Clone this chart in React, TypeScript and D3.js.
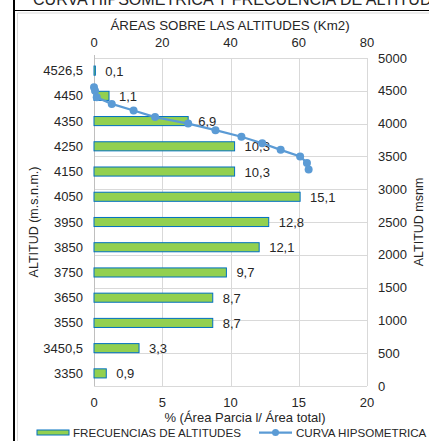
import * as d3 from "d3";

const categories = ["4526,5", "4450", "4350", "4250", "4150", "4050", "3950", "3850", "3750", "3650", "3550", "3450,5", "3350"];
const percents = [0.1, 1.1, 6.9, 10.3, 10.3, 15.1, 12.8, 12.1, 9.7, 8.7, 8.7, 3.3, 0.9];

// hypsometric curve: cumulative area above (km2) vs altitude (msnm)
const curveArea = [0, 0.3, 0.8, 5.2, 11.6, 17.9, 27.6, 35.6, 43.2, 49.3, 54.7, 60.4, 62.4, 62.9];
const curveAlt = [4553, 4500, 4400, 4300, 4200, 4100, 4000, 3900, 3800, 3700, 3600, 3500, 3400, 3300];

const pctTicks = [0, 5, 10, 15, 20];
const areaTicks = [0, 20, 40, 60, 80];
const altTicks = [0, 500, 1000, 1500, 2000, 2500, 3000, 3500, 4000, 4500, 5000];

const W = 429;
const H = 441;
const FONT = "'Liberation Sans', Arial, sans-serif";
const TXT = "#262626";
const GRID = "#d9d9d9";

export default function App() {
  const left = 94, right = 367, top = 58, bottom = 386;

  const xPct = d3.scaleLinear().domain([0, 20]).range([left, right]);
  const xArea = d3.scaleLinear().domain([0, 80]).range([left, right]);
  const yAlt = d3.scaleLinear().domain([0, 5000]).range([bottom, top]);
  const yBand = d3.scaleBand<string>().domain(categories).range([top, bottom]).paddingInner(0.64).paddingOuter(0.32);

  const pts = curveArea.map((a, i) => [xArea(a), yAlt(curveAlt[i])] as [number, number]);
  const line = d3.line();

  return (
    <svg width={W} height={H} style={{ position: "absolute", left: 0, top: 0, background: "#fff" }} fontFamily={FONT}>
      <rect x={0} y={0} width={W} height={H} fill="#fff" />
      {/* sheet title, cut off at the top as in the source */}
      <text x={33} y={5} fontSize={16} fill={TXT} textLength={420} lengthAdjust="spacingAndGlyphs">CURVA HIPSOMETRICA Y FRECUENCIA DE ALTITUDES</text>
      <line x1={14} x2={14} y1={0} y2={H} stroke="#000" strokeWidth={2} />
      <line x1={14} x2={W} y1={10.5} y2={10.5} stroke="#000" strokeWidth={1} />
      <line x1={17.5} x2={W} y1={13} y2={13} stroke={GRID} strokeWidth={1} />
      <line x1={17.5} x2={17.5} y1={13} y2={H} stroke={GRID} strokeWidth={1} />

      {/* gridlines */}
      {altTicks.map((t) => (
        <line key={"h" + t} x1={left} x2={right} y1={Math.round(yAlt(t)) + 0.5} y2={Math.round(yAlt(t)) + 0.5} stroke={GRID} />
      ))}
      {pctTicks.slice(1).map((t) => (
        <line key={"v" + t} x1={Math.round(xPct(t)) + 0.5} x2={Math.round(xPct(t)) + 0.5} y1={top} y2={bottom} stroke={GRID} />
      ))}
      <line x1={left + 0.5} x2={left + 0.5} y1={top - 3} y2={bottom} stroke="#bfbfbf" />

      {/* bars */}
      {categories.map((c, i) => (
        <g key={c}>
          <rect x={xPct(0)} y={yBand(c)} width={xPct(percents[i]) - xPct(0)} height={yBand.bandwidth()} fill="#92d050" stroke="#0070c0" strokeWidth={1} />
          <text x={xPct(percents[i]) + 10} y={(yBand(c) as number) + yBand.bandwidth() / 2 + 5} fontSize={13} fill={TXT}>
            {String(percents[i]).replace(".", ",")}
          </text>
          <text x={83} y={(yBand(c) as number) + yBand.bandwidth() / 2 + 4.5} fontSize={13} fill={TXT} textAnchor="end">{c}</text>
        </g>
      ))}

      {/* hypsometric curve */}
      <path d={line(pts) ?? ""} fill="none" stroke="#5b9bd5" strokeWidth={2.25} />
      {pts.map((p, i) => (
        <circle key={i} cx={p[0]} cy={p[1]} r={4} fill="#5b9bd5" />
      ))}

      {/* top axis */}
      <text x={230} y={30} fontSize={13.3} fill={TXT} textAnchor="middle">ÁREAS SOBRE LAS ALTITUDES (Km2)</text>
      {areaTicks.map((t) => (
        <text key={"a" + t} x={xArea(t)} y={47} fontSize={13} fill={TXT} textAnchor="middle">{t}</text>
      ))}

      {/* bottom axis */}
      {pctTicks.map((t) => (
        <text key={"p" + t} x={xPct(t)} y={407} fontSize={13} fill={TXT} textAnchor="middle">{t}</text>
      ))}
      <text x={245} y={422} fontSize={13} fill={TXT} textAnchor="middle">% (Área Parcia l/ Área total)</text>

      {/* right axis */}
      {altTicks.map((t) => (
        <text key={"r" + t} x={378} y={yAlt(t) + 4.5} fontSize={13} fill={TXT}>{t}</text>
      ))}
      <text transform={`translate(423,222) rotate(-90)`} fontSize={12.5} fill={TXT} textAnchor="middle">ALTITUD msnm</text>

      {/* left axis title */}
      <text transform={`translate(38,222) rotate(-90)`} fontSize={12.5} fill={TXT} textAnchor="middle">ALTITUD (m.s.n.m.)</text>

      {/* legend */}
      <rect x={37} y={430} width={32} height={5} fill="#92d050" stroke="#0070c0" strokeWidth={1} />
      <text x={73} y={436.5} fontSize={11.6} fill={TXT}>FRECUENCIAS DE ALTITUDES</text>
      <line x1={259} x2={292} y1={432.5} y2={432.5} stroke="#5b9bd5" strokeWidth={2.25} />
      <circle cx={275.5} cy={432.5} r={3.5} fill="#5b9bd5" />
      <text x={296} y={436.5} fontSize={11.6} fill={TXT}>CURVA HIPSOMETRICA</text>
    </svg>
  );
}
